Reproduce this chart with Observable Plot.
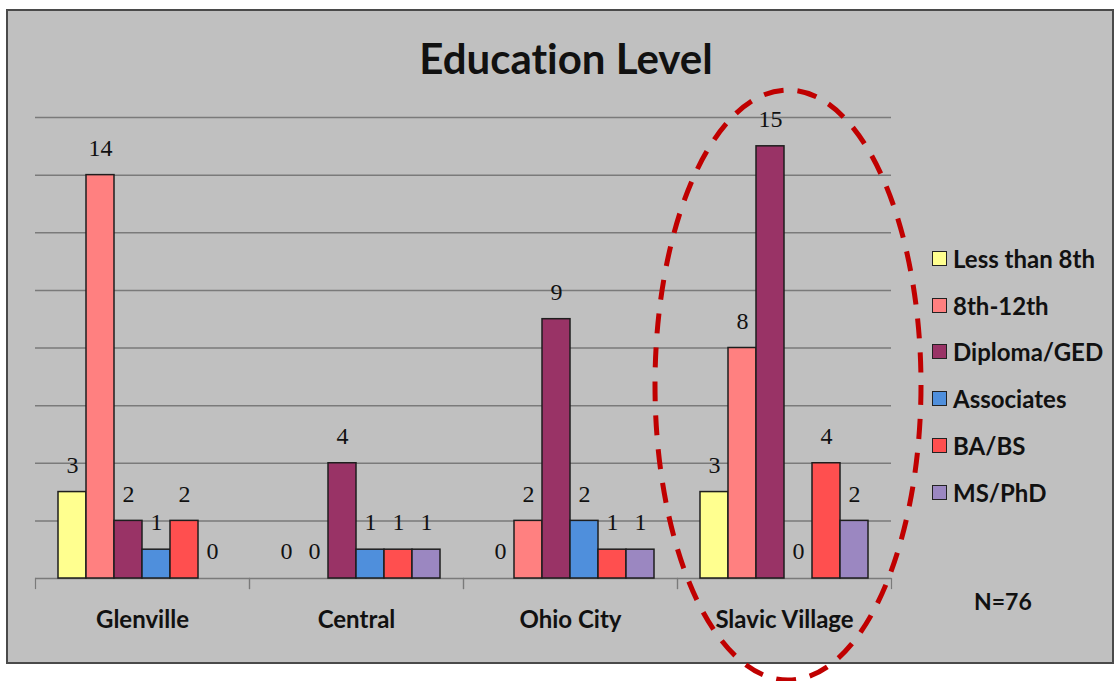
<!DOCTYPE html>
<html><head><meta charset="utf-8">
<script src="https://cdn.jsdelivr.net/npm/d3@7"></script>
<script src="https://cdn.jsdelivr.net/npm/@observablehq/plot@0.6"></script>
<style>
html,body{margin:0;padding:0;background:#fff;width:1120px;height:681px;overflow:hidden;font-family:Lato,"Open Sans",sans-serif;font-variant-ligatures:none;}
#box{position:absolute;left:6px;top:9px;width:1104px;height:651px;border:2px solid #4a4a4a;background:#c0c0c0;}
#chart{position:absolute;left:0;top:0;}
#title{position:absolute;left:566px;top:33px;transform:translateX(-50%);font-weight:bold;font-size:42px;line-height:50px;white-space:nowrap;color:#111;}
#legend{position:absolute;left:932px;top:235px;}
.item{height:46.8px;display:flex;align-items:center;font-weight:bold;font-size:24px;color:#111;white-space:nowrap;}
.sw{width:13px;height:13px;border:1.5px solid #222;margin-right:6px;}
#n{position:absolute;left:974px;top:587px;font-weight:bold;font-size:23px;color:#111;}
#overlay{position:absolute;left:0;top:0;pointer-events:none;}
svg text{font-variant-ligatures:none;}
</style></head>
<body>
<div id="box"></div>
<div id="chart"></div>
<div id="title">Education Level</div>
<div id="legend"></div>
<div id="n">N=76</div>
<script>
const neighborhoods = ["Glenville", "Central", "Ohio City", "Slavic Village"];
const levels = ["Less than 8th", "8th-12th", "Diploma/GED", "Associates", "BA/BS", "MS/PhD"];
const lessThan8th = [3, 0, 0, 3];
const grade8to12 = [14, 0, 2, 8];
const diplomaGED = [2, 4, 9, 15];
const associates = [1, 1, 2, 0];
const baBs = [2, 1, 1, 4];
const msPhd = [0, 1, 1, 2];
const colors = ["#ffff8f", "#ff8080", "#993366", "#4f8fdc", "#ff4f4f", "#9b87c1"];
const yTicks = [0, 2, 4, 6, 8, 10, 12, 14, 16];
const totalN = "N=76";

const seriesValues = [lessThan8th, grade8to12, diplomaGED, associates, baBs, msPhd];
const data = [];
neighborhoods.forEach((n, i) => levels.forEach((l, j) => data.push({neighborhood: n, level: l, count: seriesValues[j][i]})));

const H = 663, mt = 117, mb = 85;
const plot = Plot.plot({
  width: 1120, height: H,
  marginLeft: 35, marginRight: 229, marginTop: mt, marginBottom: mb,
  style: {background: "transparent", fontFamily: "Lato", overflow: "visible"},
  fx: {domain: neighborhoods, padding: 0, label: null},
  x: {domain: levels, paddingInner: 0, paddingOuter: 0.76, axis: null},
  y: {domain: [0, 16], axis: null},
  color: {domain: levels, range: colors},
  marks: [
    Plot.gridY(yTicks, {stroke: "#7a7a7a", strokeOpacity: 1, strokeWidth: 1.5}),
    Plot.frame({anchor: "left", insetTop: H - mt - mb, insetBottom: -10, stroke: "#7a7a7a", strokeWidth: 1.2}),
    Plot.frame({anchor: "right", insetTop: H - mt - mb, insetBottom: -10, stroke: "#7a7a7a", strokeWidth: 1.2}),
    Plot.barY(data.filter(d => d.count > 0), {fx: "neighborhood", x: "level", y: "count", fill: "level", stroke: "#1e1e1e", strokeWidth: 1.5}),
    Plot.text(data, {fx: "neighborhood", x: "level", y: "count", text: d => String(d.count), dy: -27, fontFamily: "Liberation Serif", fontSize: 24, fill: "#111"}),
    Plot.axisFx({anchor: "bottom", tickSize: 0, tickPadding: 32, fontSize: 24, fontWeight: "bold", fill: "#111", label: null})
  ]
});
document.getElementById("chart").appendChild(plot);

const legend = document.getElementById("legend");
levels.forEach((l, i) => {
  const item = document.createElement("div");
  item.className = "item";
  const sw = document.createElement("div");
  sw.className = "sw";
  sw.style.background = colors[i];
  item.appendChild(sw);
  item.appendChild(document.createTextNode(l));
  legend.appendChild(item);
});
document.getElementById("n").textContent = totalN;

// dashed ellipse highlight around Slavic Village
const fx = plot.scale("fx");
const idx = neighborhoods.indexOf("Slavic Village");
const cx = fx.range[0] + fx.step * idx + fx.bandwidth / 2 + 4;
const svg = d3.select("body").append("svg").attr("id", "overlay").attr("width", 1120).attr("height", 681);
svg.append("ellipse").attr("cx", cx).attr("cy", 385).attr("rx", 133).attr("ry", 295)
  .attr("fill", "none").attr("stroke", "#c00000").attr("stroke-width", 5).attr("stroke-dasharray", "20 14");
</script>
</body></html>
